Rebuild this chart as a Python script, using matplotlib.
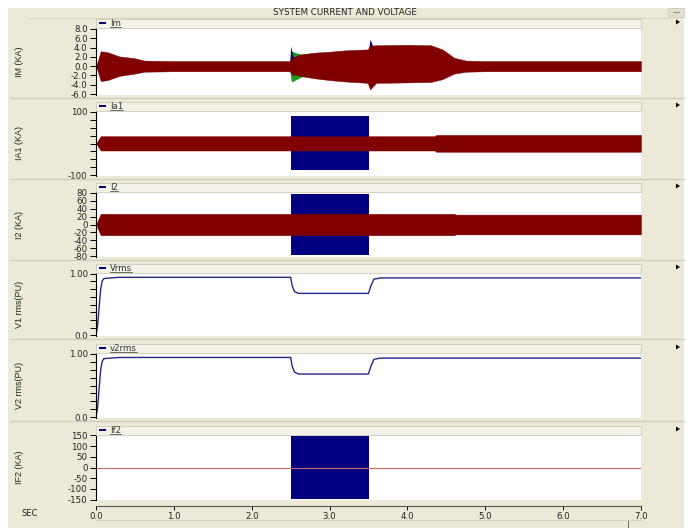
import matplotlib
matplotlib.use("Agg")
import matplotlib.pyplot as plt
from matplotlib.patches import Rectangle, Polygon
from matplotlib.lines import Line2D
import numpy as np

plt.rcParams["axes.unicode_minus"] = False

# ---- data (envelopes of the dense waveforms) ----
# panel 1: Im (KA)
im_t  = [0.0, 0.03, 0.06, 0.15, 0.3, 0.5, 0.62, 1.0, 2.49, 2.52, 2.6, 2.8, 3.0, 3.2, 3.49, 3.52, 3.6, 4.0, 4.3, 4.45, 4.6, 4.75, 5.0, 7.0]
im_hi = [0.0, 1.5, 3.2, 3.0, 2.1, 1.7, 1.2, 1.1, 1.1, 1.8, 2.4, 2.9, 3.1, 3.4, 3.6, 4.4, 4.5, 4.6, 4.5, 3.6, 1.8, 1.2, 1.1, 1.1]
im_lo = [0.0, -1.5, -3.2, -3.0, -2.1, -1.6, -1.2, -1.1, -1.1, -1.8, -2.0, -2.6, -3.0, -3.3, -3.6, -5.0, -3.6, -3.5, -3.4, -2.8, -1.6, -1.2, -1.1, -1.1]
im_g_t  = [2.49, 2.51, 2.56, 2.64, 2.75]
im_g_hi = [1.1, 3.3, 2.9, 2.6, 2.8]
im_g_lo = [-1.1, -3.4, -3.0, -2.3, -2.3]
im_b_t  = [2.49, 2.5, 2.53, 3.5, 3.52, 3.55]
im_b_hi = [1.1, 4.3, 2.0, 3.6, 5.8, 4.5]

# panel 2: Ia1 (KA)
ia1_t  = [0.0, 0.06, 4.35, 4.37, 7.0]
ia1_hi = [0.0, 23, 23, 27, 27]
ia1_lo = [0.0, -22, -22, -26, -26]
ia1_b_t = [2.51, 3.51]
ia1_b_hi = [86, 86]
ia1_b_lo = [-83, -83]

# panel 3: I2 (KA)
i2_t  = [0.0, 0.06, 4.6, 4.62, 7.0]
i2_hi = [0.0, 27, 27, 25, 25]
i2_lo = [0.0, -27, -27, -25, -25]
i2_b_t = [2.51, 3.51]
i2_b_hi = [78, 78]
i2_b_lo = [-78, -78]

# panel 4/5: rms voltages (PU)
v_t   = [0.0, 0.02, 0.04, 0.06, 0.08, 0.1, 0.18, 0.3, 2.5, 2.52, 2.55, 2.6, 3.5, 3.53, 3.57, 3.65, 7.0]
v1    = [0.0, 0.15, 0.45, 0.75, 0.88, 0.92, 0.93, 0.94, 0.94, 0.80, 0.71, 0.68, 0.68, 0.80, 0.91, 0.93, 0.93]
v2    = [0.0, 0.15, 0.45, 0.75, 0.88, 0.92, 0.93, 0.94, 0.94, 0.80, 0.71, 0.68, 0.68, 0.80, 0.91, 0.93, 0.93]

# panel 6: If2 (KA)
if2_b_t = [2.51, 3.51]
if2_b_hi = [148, 148]
if2_b_lo = [-148, -148]
if2_line_t = [0.0, 7.0]
if2_line = [0.0, 0.0]

x_ticks = [0, 1, 2, 3, 4, 5, 6, 7]

W, H = 688, 528
BG = "#ECE9D8"
HEAD = "#F3F1E8"
RED = "#800000"
BLUE = "#000080"
GREEN = "#1f9a1f"
VLINE = "#26268c"


def fx(px):
    return px / W


def fy(py):
    return 1 - py / H


fig = plt.figure(figsize=(W / 100, H / 100), dpi=100, facecolor="white")
fig.patches.append(Rectangle((fx(8), 0), fx(684) - fx(8), fy(8), transform=fig.transFigure,
                             facecolor=BG, edgecolor="none", zorder=-10))
# title bar
fig.text(fx(345), fy(12.5), "SYSTEM CURRENT AND VOLTAGE", ha="center", va="center", fontsize=6.3,
         family="DejaVu Sans", color="#222222")
fig.add_artist(Line2D([fx(30), fx(668)], [fy(18), fy(18)], color="#d8d4c4", lw=0.8))
fig.patches.append(Rectangle((fx(668), fy(17)), fx(16), fy(8) - fy(17), transform=fig.transFigure,
                             facecolor="#e2dfd0", edgecolor="#c8c4b4", lw=0.5))
fig.text(fx(676), fy(12), "\u2014", ha="center", va="center", fontsize=5, color="#333333")

L, R = 96, 641
panels = [(28, 95), (111, 176), (192, 257), (273, 336), (353, 418), (435, 500)]
names = ["Im", "Ia1", "I2", "Vrms", "v2rms", "If2"]
ylabels = ["IM (KA)", "IA1 (KA)", "I2 (KA)", "V1 rms(PU)", "V2 rms(PU)", "IF2 (KA)"]

axes = []
legend_texts = []
for i, (top, bot) in enumerate(panels):
    # header strip with legend entry
    fig.patches.append(Rectangle((fx(L), fy(top)), fx(R) - fx(L), fy(top - 9) - fy(top),
                                 transform=fig.transFigure, facecolor=HEAD, edgecolor="#cfcbbb", lw=0.6))
    fig.patches.append(Rectangle((fx(99), fy(top - 4)), fx(7), fy(top - 5.8) - fy(top - 4),
                                 transform=fig.transFigure, facecolor=BLUE, edgecolor="none"))
    t = fig.text(fx(110), fy(top - 4.8), names[i], ha="left", va="center", fontsize=6.2,
                 family="DejaVu Sans", color="#333333")
    legend_texts.append((t, top))
    # separator line under panel
    sep = bot + 3 if i < 5 else None
    if sep:
        fig.add_artist(Line2D([fx(10), fx(684)], [fy(sep), fy(sep)], color="#d2cebe", lw=1.0))
    # triangle marker at right
    ty = top - 6
    fig.patches.append(Polygon([[fx(676), fy(ty - 2.5)], [fx(676), fy(ty + 2.5)], [fx(680), fy(ty)]],
                               closed=True, transform=fig.transFigure, facecolor="black", edgecolor="none"))
    ax = fig.add_axes([fx(L), fy(bot), fx(R) - fx(L), fy(top) - fy(bot)])
    ax.set_facecolor("white")
    for s in ["top", "right", "bottom"]:
        ax.spines[s].set_visible(False)
    ax.spines["left"].set_linewidth(0.8)
    ax.set_xlim(0, 7)
    ax.set_xticks([])
    ax.tick_params(axis="y", direction="out", length=4, width=0.7, labelsize=6.2, pad=2,
                   labelcolor="#222222")
    fig.text(fx(19), (fy(top) + fy(bot)) / 2, ylabels[i], rotation=90, ha="center", va="center",
             fontsize=6.5, family="Liberation Sans", color="#222222")
    axes.append(ax)

# panel 1
ax = axes[0]
ax.fill_between(im_g_t, im_g_lo, im_g_hi, color=GREEN, lw=0)
ax.fill_between(im_b_t, [0] * len(im_b_t), im_b_hi, color=BLUE, lw=0)
ax.fill_between(im_t, im_lo, im_hi, color=RED, lw=0.3, edgecolor=RED)
ax.set_ylim(-6.2, 8.2)
ax.set_yticks([8, 6, 4, 2, 0, -2, -4, -6])
ax.set_yticklabels(["8.0", "6.0", "4.0", "2.0", "0.0", "-2.0", "-4.0", "-6.0"])

# panel 2
ax = axes[1]
ax.fill_between(ia1_b_t, ia1_b_lo, ia1_b_hi, color=BLUE, lw=0)
ax.fill_between(ia1_t, ia1_lo, ia1_hi, color=RED, lw=0.3, edgecolor=RED)
ax.set_ylim(-102, 102)
yt = [100, 75, 50, 25, 0, -25, -50, -75, -100]
ax.set_yticks(yt)
ax.set_yticklabels(["100"] + [""] * 7 + ["-100"])

# panel 3
ax = axes[2]
ax.fill_between(i2_b_t, i2_b_lo, i2_b_hi, color=BLUE, lw=0)
ax.fill_between(i2_t, i2_lo, i2_hi, color=RED, lw=0.3, edgecolor=RED)
ax.set_ylim(-82, 82)
ax.set_yticks([80, 60, 40, 20, 0, -20, -40, -60, -80])

# panels 4 and 5
for ax, v in [(axes[3], v1), (axes[4], v2)]:
    ax.plot(v_t, v, color=VLINE, lw=1.0)
    ax.set_ylim(-0.01, 1.01)
    ax.set_yticks([1.0, 0.875, 0.75, 0.625, 0.5, 0.375, 0.25, 0.125, 0.0])
    ax.set_yticklabels(["1.00"] + [""] * 7 + ["0.0"])

# panel 6
ax = axes[5]
ax.fill_between(if2_b_t, if2_b_lo, if2_b_hi, color=BLUE, lw=0)
ax.plot(if2_line_t, if2_line, color="#c86a6a", lw=0.8)
ax.set_ylim(-152, 152)
ax.set_yticks([150, 100, 50, 0, -50, -100, -150])

# time axis
axx = fig.add_axes([fx(L), fy(506), fx(R) - fx(L), 0.0005])
for s in ["top", "right", "left"]:
    axx.spines[s].set_visible(False)
axx.spines["bottom"].set_linewidth(0.8)
axx.spines["bottom"].set_color("#555555")
axx.set_yticks([])
axx.set_xlim(0, 7)
axx.set_xticks(x_ticks)
axx.set_xticklabels(["%.1f" % v for v in x_ticks])
axx.tick_params(axis="x", direction="out", length=3, width=0.7, labelsize=6.2, pad=1.5,
                labelcolor="#222222")
fig.text(fx(30), fy(514), "SEC", ha="center", va="center", fontsize=6, color="#222222")

# scrollbar hint
fig.add_artist(Line2D([fx(96), fx(641)], [fy(520), fy(520)], color="#d2cebe", lw=0.8))
fig.add_artist(Line2D([fx(628), fx(628)], [fy(521), fy(528)], color="#555555", lw=0.6))

# underline the legend names
fig.canvas.draw()
rend = fig.canvas.get_renderer()
for t, top in legend_texts:
    bb = t.get_window_extent(rend)
    fig.add_artist(Line2D([bb.x0 / W, bb.x1 / W], [fy(top - 1.2), fy(top - 1.2)], color="#333333", lw=0.5))

fig.savefig("out.png", dpi=100, facecolor=fig.get_facecolor())
